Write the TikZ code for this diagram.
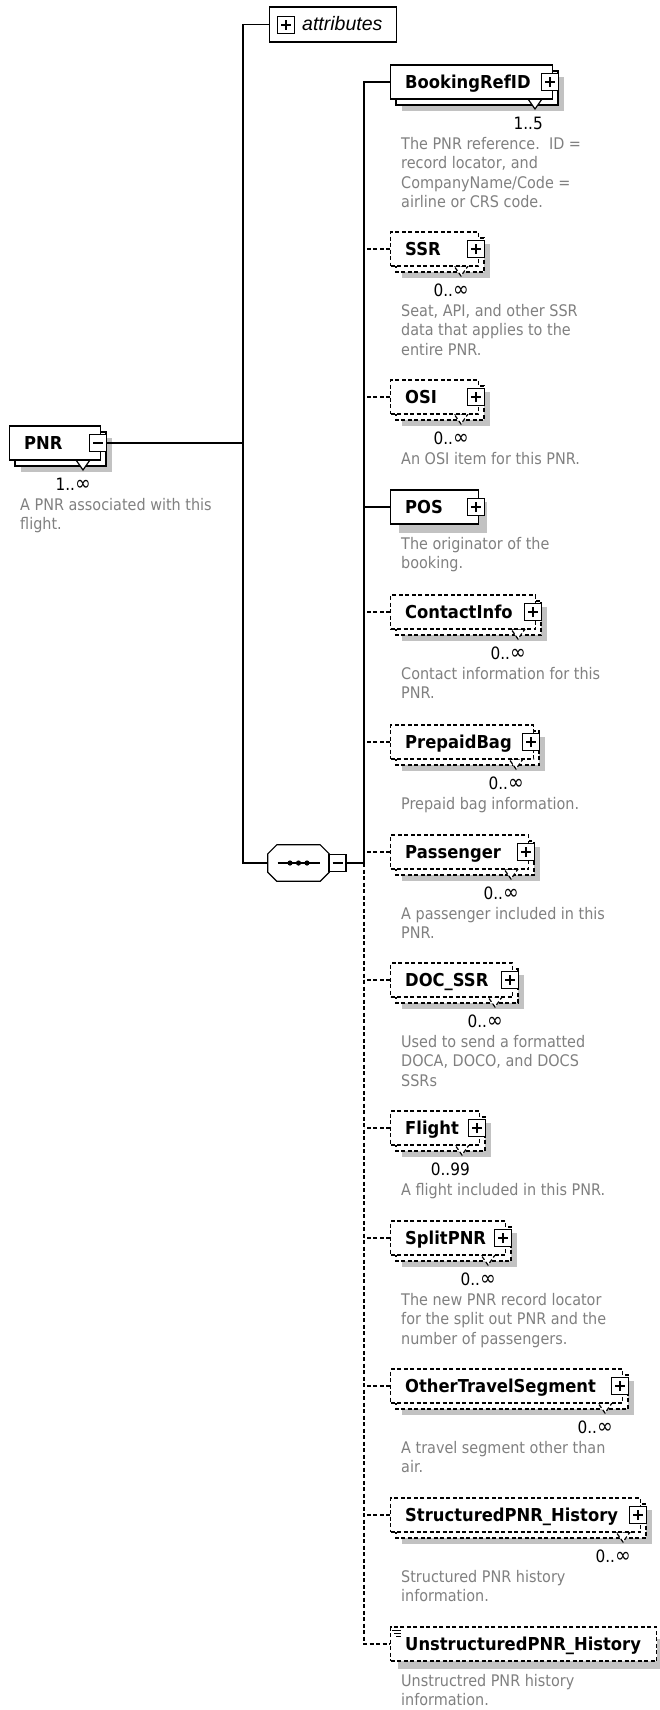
\documentclass[tikz,border=0pt]{standalone}
\usepackage{fontspec}
\newfontfamily\lblfont{DejaVu Sans}[FakeStretch=0.92]
\newfontfamily\descfont{DejaVu Sans}[FakeStretch=0.9]
\newfontfamily\attrfont{Liberation Sans}
\usetikzlibrary{calc}
\definecolor{shadowc}{gray}{0.76}
\definecolor{descc}{gray}{0.5}
\newcommand\infy{{\fontsize{21pt}{20pt}\selectfont ∞}}
\tikzset{
 ln/.style={line width=1.2pt, draw=black},
 solidln/.style={ln},
 dashedln/.style={ln, dash pattern=on 4pt off 2.5pt},
 frontbox/.style={draw, fill=white, inner sep=0pt, minimum height=34pt, anchor=west},
 pmbox/.style={draw, fill=white, solid, line width=1.2pt, minimum width=17pt, minimum height=17pt, inner sep=0pt},
 plusbox/.style={pmbox, path picture={\draw[solid,line width=1.2pt] ([xshift=-5pt]path picture bounding box.center) -- ([xshift=5pt]path picture bounding box.center) ([yshift=-5pt]path picture bounding box.center) -- ([yshift=5pt]path picture bounding box.center);}},
 minusbox/.style={pmbox, path picture={\draw[solid,line width=1.2pt] ([xshift=-5pt]path picture bounding box.center) -- ([xshift=5pt]path picture bounding box.center);}},
 lbl/.style={font={\lblfont\bfseries\fontsize{17.8pt}{20pt}\selectfont}, inner sep=0pt, anchor=base west},
 mult/.style={font={\descfont\fontsize{17pt}{20pt}\selectfont}, inner sep=0pt, anchor=base east},
 desc/.style={font={\descfont\fontsize{16pt}{19.5pt}\selectfont}, text=descc, inner sep=0pt, anchor=north west, align=left},
}
% #1 name #2 label #3 cy #4 L #5 R #6 line style #7 mult #8 desc #9 pm style
\newcommand\xelem[9]{%
 \ifx\relax#7\relax
   \fill[shadowc] ({#4+9},{#3-5}) rectangle ({#5+9},{#3+26});
 \else
   \fill[shadowc] ({#4+12},{#3-5}) rectangle ({#5+12},{#3+29});
   \filldraw[#6, fill=white] ({#4+6},{#3-11}) rectangle ({#5+6},{#3+23});
   \filldraw[#6, fill=white] ({#5-24},{#3+17}) -- ({#5-10},{#3+17}) -- ({#5-17},{#3+27}) -- cycle;
 \fi
 \node[frontbox, #6, minimum width={(#5-#4)*1pt}] (#1) at (#4,#3) {};
 \node[#9] (#1p) at ({#5-2},#3) {};
 \node[lbl] (#1t) at ({#4+15},{#3+6.5}) {#2};
 \ifx\relax#7\relax
   \node[desc] (#1d) at ({#4+11},{#3+30}) {#8};
 \else
   \node[mult] (#1m) at ({#5-9},{#3+47}) {#7};
   \node[desc] (#1d) at ({#4+11},{#3+55}) {#8};
 \fi
}
\begin{document}
\begin{tikzpicture}[x=1pt,y=-1pt]
\useasboundingbox (0,0) rectangle (659,1710);
% attributes
\node[draw, fill=white, ln, minimum width=127pt, minimum height=35pt, anchor=west, inner sep=0pt] (attr) at (269,24.5) {};
\node[plusbox] (attrp) at (286,25) {};
\node[font={\attrfont\itshape\fontsize{19.5pt}{22pt}\selectfont}, anchor=base west, inner sep=0pt] (attrt) at (302,30.5) {attributes};
% PNR
\xelem{pnr}{PNR}{443}{9}{100}{solidln}{1..\infy}{A PNR associated with this\\flight.}{minusbox}
% sequence compositor
\node[minimum width=61pt, minimum height=36pt, inner sep=0pt] (seq) at (298.5,863) {};
\fill[shadowc, shift={(6,6)}] ($(seq.north west)+(9,0)$) -- ($(seq.north east)+(-9,0)$) -- ($(seq.north east)+(0,9)$) -- ($(seq.south east)+(0,-9)$) -- ($(seq.south east)+(-9,0)$) -- ($(seq.south west)+(9,0)$) -- ($(seq.south west)+(0,-9)$) -- ($(seq.north west)+(0,9)$) -- cycle;
\filldraw[solidln, fill=white] ($(seq.north west)+(9,0)$) -- ($(seq.north east)+(-9,0)$) -- ($(seq.north east)+(0,9)$) -- ($(seq.south east)+(0,-9)$) -- ($(seq.south east)+(-9,0)$) -- ($(seq.south west)+(9,0)$) -- ($(seq.south west)+(0,-9)$) -- ($(seq.north west)+(0,9)$) -- cycle;
\draw[solidln] ($(seq.center)+(-21,0)$) -- ($(seq.center)+(21,0)$);
\fill ($(seq.center)+(-8.5,0)$) circle (2.6pt) (seq.center) circle (2.6pt) ($(seq.center)+(8.5,0)$) circle (2.6pt);
\node[minusbox] (seqm) at (337.5,863) {};
% children
\xelem{bref}{BookingRefID}{82}{390}{552}{solidln}{1..5}{The PNR reference.\ \ ID =\\record locator, and\\CompanyName/Code =\\airline or CRS code.}{plusbox}
\xelem{ssr}{SSR}{249}{390}{478}{dashedln}{0..\infy}{Seat, API, and other SSR\\data that applies to the\\entire PNR.}{plusbox}
\xelem{osi}{OSI}{397}{390}{478}{dashedln}{0..\infy}{An OSI item for this PNR.}{plusbox}
\xelem{pos}{POS}{507}{390}{478}{solidln}{}{The originator of the\\booking.}{plusbox}
\xelem{cinfo}{ContactInfo}{612}{390}{535}{dashedln}{0..\infy}{Contact information for this\\PNR.}{plusbox}
\xelem{pbag}{PrepaidBag}{742}{390}{533}{dashedln}{0..\infy}{Prepaid bag information.}{plusbox}
\xelem{pax}{Passenger}{852}{390}{528}{dashedln}{0..\infy}{A passenger included in this\\PNR.}{plusbox}
\xelem{doc}{DOC\_SSR}{980}{390}{512}{dashedln}{0..\infy}{Used to send a formatted\\DOCA, DOCO, and DOCS\\SSRs}{plusbox}
\xelem{flt}{Flight}{1128}{390}{479}{dashedln}{0..99}{A flight included in this PNR.}{plusbox}
\xelem{split}{SplitPNR}{1238}{390}{505}{dashedln}{0..\infy}{The new PNR record locator\\for the split out PNR and the\\number of passengers.}{plusbox}
\xelem{ots}{OtherTravelSegment}{1386}{390}{622}{dashedln}{0..\infy}{A travel segment other than\\air.}{plusbox}
\xelem{sph}{StructuredPNR\_History}{1515}{390}{640}{dashedln}{0..\infy}{Structured PNR history\\information.}{plusbox}
% Unstructured
\fill[shadowc] (398,1639) rectangle (668,1669);
\node[frontbox, dashedln, minimum width=266pt] (unst) at (390,1644) {};
\draw[line width=0.8pt] (392,1630) -- (401,1630) (394,1633) -- (401,1633) (396,1636) -- (401,1636);
\node[lbl] (unstt) at (405,1650.5) {UnstructuredPNR\_History};
\node[desc] (unstd) at (401,1674) {Unstructred PNR history\\information.};
% connectors
\coordinate (L0) at (243,24.5);
\coordinate (L1) at (243,443);
\coordinate (L2) at (243,863);
\coordinate (R0) at (364,82);
\coordinate (R1) at (364,863);
\coordinate (R2) at (364,1644);
\draw[solidln] (attr.west) -- (L0) -- (L2) -- (seq.west);
\draw[solidln] (pnrp.east) -- (L1);
\draw[solidln] (bref.west) -- (R0) -- (R1);
\draw[solidln] (seqm.east) -- (R1);
\draw[dashedln] (R1) -- (R2) -- (unst.west);
\draw[solidln] (pos.west) -- (pos.west -| R0);
\foreach \n in {ssr,osi,cinfo,pbag,pax,doc,flt,split,ots,sph}
  \draw[dashedln] (\n.west) -- (\n.west -| R0);
\end{tikzpicture}
\end{document}
